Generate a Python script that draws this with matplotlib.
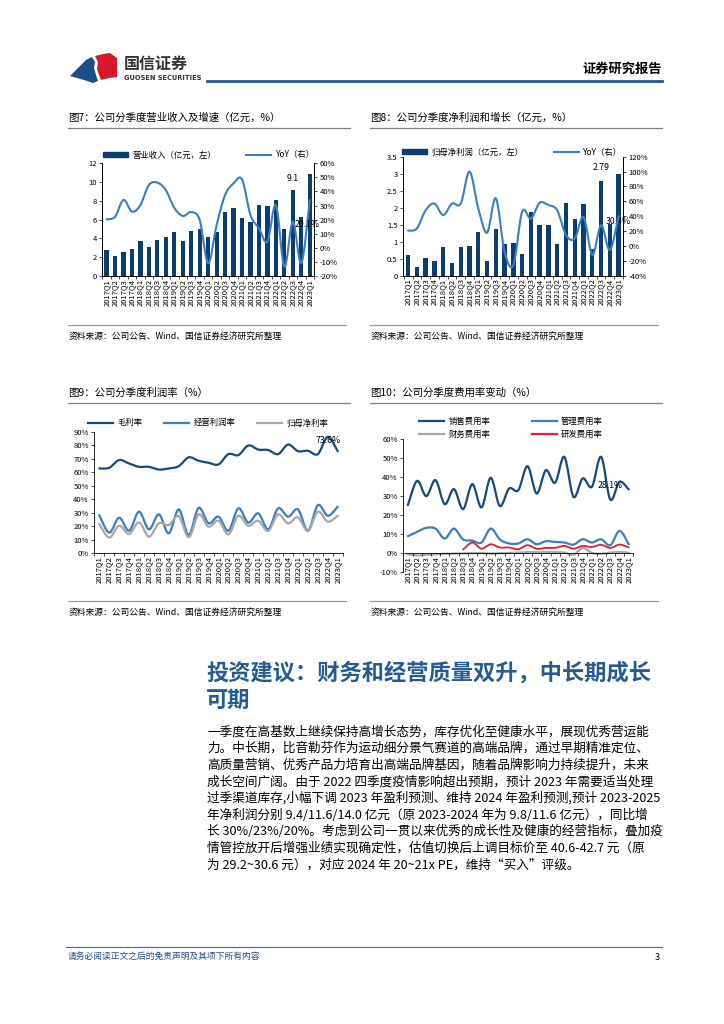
import numpy as np
import matplotlib
matplotlib.use('Agg')
import matplotlib.pyplot as plt
from matplotlib.path import Path
from matplotlib.patches import PathPatch, Patch, Polygon
from matplotlib.lines import Line2D
from matplotlib.ticker import FuncFormatter

plt.rcParams['font.family'] = ['Noto Sans CJK SC', 'DejaVu Sans']
plt.rcParams['axes.unicode_minus'] = False

# ---------------- data ----------------
quarters = ['2017Q1', '2017Q2', '2017Q3', '2017Q4', '2018Q1', '2018Q2', '2018Q3', '2018Q4',
            '2019Q1', '2019Q2', '2019Q3', '2019Q4', '2020Q1', '2020Q2', '2020Q3', '2020Q4',
            '2021Q1', '2021Q2', '2021Q3', '2021Q4', '2022Q1', '2022Q2', '2022Q3', '2022Q4',
            '2023Q1']

# 图7 营业收入（亿元）及 YoY（%）
revenue = [2.8, 2.1, 2.55, 2.9, 3.7, 3.05, 3.85, 4.15, 4.7, 3.7, 4.8, 5.0, 4.15, 4.7,
           6.8, 7.25, 6.2, 5.8, 7.55, 7.5, 8.1, 5.0, 9.15, 6.3, 10.85]
revenue_yoy = [20.2, 22, 34, 25.7, 30.4, 44.6, 46.3, 41, 28.5, 22.6, 25.4, 19.8, -11, 16.2,
               37.5, 45.8, 48.6, 23.3, 13.8, 4.4, 30.4, -13.4, 18.6, -11, 34]

# 图8 归母净利润（亿元）及 YoY（%）
net_profit = [0.61, 0.245, 0.53, 0.44, 0.85, 0.37, 0.83, 0.87, 1.29, 0.43, 1.38, 0.93, 0.96,
              0.64, 1.88, 1.49, 1.49, 0.93, 2.15, 1.66, 2.12, 0.8, 2.79, 1.52, 3.0]
profit_yoy = [20.5, 23.6, 48, 57, 41.5, 57, 57, 100, 50.5, 17.8, 64, -7.8, -25.7, 46, 36.6,
              58, 55, 48, 14.6, 10, 39, -12, 28, -5.6, 40]

# 图9 利润率（%）
gross_margin = [62.8, 63.3, 69, 66.5, 64, 64, 62, 62.8, 64.5, 71, 68.5, 67, 65.8, 73.4, 72.7,
                79.8, 76.8, 76.4, 73.4, 80.5, 75.6, 75.9, 73.4, 86.2, 75.6]
op_margin = [28.3, 15.3, 26.4, 16.7, 30.8, 17.7, 28.8, 14.8, 32.5, 13.5, 33.7, 22.2, 27.1,
             16.7, 33.3, 22.7, 29.6, 17.7, 33.3, 27.1, 32.5, 16.7, 35.7, 27.8, 34.5]
net_margin = [21.7, 11.6, 20.4, 14.3, 22.9, 12.3, 22.2, 20.9, 27.6, 11.8, 28.8, 19.7, 24.1,
              14, 27.8, 20.4, 24.1, 16.5, 28.8, 22.2, 26.6, 16.5, 30.8, 23.4, 27.8]

# 图10 费用率（%）
sales_exp = [25.2, 37.9, 29.9, 38.3, 25.7, 33.6, 23.1, 36.2, 24, 39.5, 24.7, 33.9, 33, 45.6,
             31.3, 43.5, 36.9, 50.5, 29.5, 39.2, 34.8, 50.5, 28.1, 37.4, 33.4]
admin_exp = [8.9, 11.2, 13.3, 12.9, 7.7, 12.9, 7.2, 6.6, 5.6, 12.9, 7.2, 5.1, 5.1, 7.3, 4.7,
             6.3, 5.9, 5.6, 4.5, 7.3, 5.6, 7.3, 4.2, 11.7, 4.7]
fin_exp = [-0.5, -1.2, -0.8, -0.6, -0.3, -0.2, -0.1, 0.0, 0.1, -0.2, 0.0, 0.1, 0.3, 0.6, 0.5,
           0.6, 0.5, 0.4, -0.8, 2.8, 0.2, -0.3, 0.3, 0.6, 0.2]
rd_exp = [1.9, 5.6, 2.4, 4.7, 3.0, 3.0, 2.1, 4.2, 2.3, 2.8, 2.8, 3.8, 2.4, 3.8, 3.3, 4.4,
          2.8, 4.5, 3.1]  # 自 2018Q3 起

body_lines = [
    '一季度在高基数上继续保持高增长态势，库存优化至健康水平，展现优秀营运能',
    '力。中长期，比音勒芬作为运动细分景气赛道的高端品牌，通过早期精准定位、',
    '高质量营销、优秀产品力培育出高端品牌基因，随着品牌影响力持续提升，未来',
    '成长空间广阔。由于 2022 四季度疫情影响超出预期，预计 2023 年需要适当处理',
    '过季渠道库存,小幅下调 2023 年盈利预测、维持 2024 年盈利预测,预计 2023-2025',
    '年净利润分别 9.4/11.6/14.0 亿元（原 2023-2024 年为 9.8/11.6 亿元），同比增',
    '长 30%/23%/20%。考虑到公司一贯以来优秀的成长性及健康的经营指标，叠加疫',
    '情管控放开后增强业绩实现确定性，估值切换后上调目标价至 40.6-42.7 元（原',
    '为 29.2~30.6 元），对应 2024 年 20~21x PE，维持“买入”评级。',
]

# ---------------- style ----------------
NAVY = '#0c3d70'
BLUE = '#3a7fc1'
GRAY = '#a8a8a8'
RED = '#e0202a'
W, H = 724, 1024
TICK_FS = 5.5


def box(x0, y0, x1, y1):
    return [x0 / W, 1 - y1 / H, (x1 - x0) / W, (y1 - y0) / H]


def fx(x):
    return x / W


def fy(y):
    return 1 - y / H


def smooth(ax, xs, ys, **kw):
    # Excel 风格的平滑折线（Catmull-Rom -> Bezier）
    xs = np.asarray(xs, float)
    ys = np.asarray(ys, float)
    n = len(xs)
    verts = [(xs[0], ys[0])]
    codes = [Path.MOVETO]
    for i in range(n - 1):
        a = i - 1 if i > 0 else i
        d = i + 2 if i + 2 < n else i + 1
        c1 = (xs[i] + (xs[i + 1] - xs[a]) / 6, ys[i] + (ys[i + 1] - ys[a]) / 6)
        c2 = (xs[i + 1] - (xs[d] - xs[i]) / 6, ys[i + 1] - (ys[d] - ys[i]) / 6)
        verts += [c1, c2, (xs[i + 1], ys[i + 1])]
        codes += [Path.CURVE4] * 3
    ax.add_patch(PathPatch(Path(verts, codes), fill=False, capstyle='round',
                           joinstyle='round', **kw))


def pct(v, _):
    return f'{v:.0f}%'


def style_axis(ax, n):
    ax.set_xticks(np.arange(n))
    ax.set_xticklabels(quarters, rotation=90, fontsize=TICK_FS)
    ax.set_xticks(np.arange(-0.5, n, 1), minor=True)
    ax.tick_params(axis='x', which='major', length=0, pad=2)
    ax.tick_params(axis='x', which='minor', length=2.5, width=0.5)
    ax.tick_params(axis='y', labelsize=TICK_FS, length=2, width=0.5, pad=2)
    for s in ax.spines.values():
        s.set_linewidth(0.6)
    ax.spines['top'].set_visible(False)


fig = plt.figure(figsize=(W / 100, H / 100), dpi=100)
x = np.arange(len(quarters))

# ---------------- header ----------------
blue_logo = [(70, 76), (78, 68), (86, 60), (92, 57), (95, 62), (94, 68), (96, 75), (98, 81),
             (93, 83), (84, 80)]
red_logo = [(95, 56), (103, 54), (110, 53), (117, 58), (117, 77), (109, 78), (101, 80),
            (99, 75), (97, 69), (98, 62)]
fig.add_artist(Polygon([(fx(a), fy(b)) for a, b in blue_logo], closed=True,
                       transform=fig.transFigure, color='#1c4e86', lw=0))
fig.add_artist(Polygon([(fx(a), fy(b)) for a, b in red_logo], closed=True,
                       transform=fig.transFigure, color='#d7182a', lw=0))
fig.text(fx(124), fy(64), '国信证券', fontsize=11.5, fontweight='bold', color='#333333',
         va='center')
fig.text(fx(124), fy(78), 'GUOSEN SECURITIES', fontsize=4.8, fontweight='bold',
         color='#333333', va='center', family=['DejaVu Sans'])
fig.add_artist(Line2D([fx(207), fx(662)], [fy(81), fy(81)], color='#1f5a94', lw=2))
fig.text(fx(662), fy(69), '证券研究报告', fontsize=9.5, fontweight='bold', ha='right',
         va='center')

# ---------------- titles / sources ----------------
for xl, xr, yt, title in [(68, 350, 118, '图7：公司分季度营业收入及增速（亿元，%）'),
                          (370, 662, 118, '图8：公司分季度净利润和增长（亿元，%）'),
                          (68, 350, 393, '图9：公司分季度利润率（%）'),
                          (370, 662, 393, '图10：公司分季度费用率变动（%）')]:
    fig.text(fx(xl), fy(yt), title, fontsize=7.5, va='center')
    fig.add_artist(Line2D([fx(xl), fx(xr)], [fy(yt + 10)] * 2, color='#7f7f7f', lw=0.9))
    ys = 325 if yt < 300 else 601
    fig.add_artist(Line2D([fx(xl), fx(xr - 4)], [fy(ys)] * 2, color='#9a9a9a', lw=0.9))
    fig.text(fx(xl + 1), fy(ys + 11), '资料来源：公司公告、Wind、国信证券经济研究所整理',
             fontsize=6.3, va='center')

# ---------------- 图7 ----------------
ax7 = fig.add_axes(box(102.3, 163.3, 314, 276))
ax7.bar(x, revenue, width=0.5, color=NAVY, zorder=2)
ax7.set_xlim(-0.45, 24.4)
ax7.set_ylim(0, 12)
ax7.set_yticks(range(0, 13, 2))
style_axis(ax7, len(quarters))
ax7r = ax7.twinx()
ax7r.set_ylim(-20, 60)
ax7r.set_yticks(range(-20, 61, 10))
ax7r.yaxis.set_major_formatter(FuncFormatter(pct))
ax7r.tick_params(axis='y', labelsize=TICK_FS, length=2, width=0.5, pad=2)
for s in ax7r.spines.values():
    s.set_linewidth(0.6)
ax7r.spines['top'].set_visible(False)
smooth(ax7r, x, revenue_yoy, color=BLUE, lw=1.5)
ax7.text(22, 10.4, '9.1', fontsize=6.3, ha='center', va='center', zorder=5)
ax7r.text(23.7, 16.5, '20.1%', fontsize=6.3, ha='center', va='center')
fig.legend([Patch(color=NAVY), Line2D([], [], color=BLUE, lw=1.5)],
           ['营业收入（亿元，左）', 'YoY（右）'], loc='center',
           bbox_to_anchor=(fx(209), fy(155)), ncol=2, frameon=False, fontsize=6,
           handlelength=3, handleheight=0.5, columnspacing=3.6, handletextpad=0.5,
           borderpad=0)

# ---------------- 图8 ----------------
ax8 = fig.add_axes(box(403.3, 156.7, 623, 275.7))
ax8.bar(x, net_profit, width=0.5, color=NAVY, zorder=2)
ax8.set_xlim(-0.55, 24.4)
ax8.set_ylim(0, 3.5)
ax8.set_yticks(np.arange(0, 3.6, 0.5))
ax8.yaxis.set_major_formatter(FuncFormatter(lambda v, _: f'{v:g}'))
style_axis(ax8, len(quarters))
ax8r = ax8.twinx()
ax8r.set_ylim(-40, 120)
ax8r.set_yticks(range(-40, 121, 20))
ax8r.yaxis.set_major_formatter(FuncFormatter(pct))
ax8r.tick_params(axis='y', labelsize=TICK_FS, length=2, width=0.5, pad=2)
for s in ax8r.spines.values():
    s.set_linewidth(0.6)
ax8r.spines['top'].set_visible(False)
smooth(ax8r, x, profit_yoy, color=BLUE, lw=1.5)
ax8.text(22, 3.17, f'{net_profit[22]:.2f}', fontsize=6.3, ha='center', va='center')
ax8.text(24, 1.59, '30.4%', fontsize=6.3, ha='center', va='center', zorder=5)
fig.legend([Patch(color=NAVY), Line2D([], [], color=BLUE, lw=1.5)],
           ['归母净利润（亿元，左）', 'YoY（右）'], loc='center',
           bbox_to_anchor=(fx(512), fy(152)), ncol=2, frameon=False, fontsize=6,
           handlelength=3, handleheight=0.5, columnspacing=3.6, handletextpad=0.5,
           borderpad=0)

# ---------------- 图9 ----------------
ax9 = fig.add_axes(box(94.3, 431.7, 342.7, 553.3))
smooth(ax9, x, gross_margin, color='#164a7e', lw=1.6)
smooth(ax9, x, op_margin, color=BLUE, lw=1.6)
smooth(ax9, x, net_margin, color=GRAY, lw=1.6)
ax9.set_xlim(-0.5, 24.5)
ax9.set_ylim(0, 90)
ax9.set_yticks(range(0, 91, 10))
ax9.yaxis.set_major_formatter(FuncFormatter(pct))
style_axis(ax9, len(quarters))
ax9.spines['right'].set_visible(False)
ax9.text(23.05, 83.8, '73.6%', fontsize=6.3, ha='center', va='center')
fig.legend([Line2D([], [], color='#164a7e', lw=1.6), Line2D([], [], color=BLUE, lw=1.6),
            Line2D([], [], color=GRAY, lw=1.6)],
           ['毛利率', '经营利润率', '归母净利率'], loc='center',
           bbox_to_anchor=(fx(208), fy(423)), ncol=3, frameon=False, fontsize=6,
           handlelength=3, columnspacing=2.6, handletextpad=0.5, borderpad=0)

# ---------------- 图10 ----------------
ax10 = fig.add_axes(box(403.3, 438.7, 633.3, 572.3))
ax10.spines['bottom'].set_position(('data', 0))
smooth(ax10, x, sales_exp, color='#164a7e', lw=1.6)
smooth(ax10, x, admin_exp, color=BLUE, lw=1.6)
smooth(ax10, x, fin_exp, color=GRAY, lw=1.6)
smooth(ax10, x[len(quarters) - len(rd_exp):], rd_exp, color=RED, lw=1.3)
ax10.set_xlim(-0.5, 24.5)
ax10.set_ylim(-10, 60)
ax10.set_yticks(range(-10, 61, 10))
ax10.yaxis.set_major_formatter(FuncFormatter(pct))
style_axis(ax10, len(quarters))
ax10.spines['right'].set_visible(False)
ax10.text(22, 35.7, '28.1%', fontsize=6.3, ha='center', va='center')
fig.legend([Line2D([], [], color='#164a7e', lw=1.6), Line2D([], [], color=GRAY, lw=1.6),
            Line2D([], [], color=BLUE, lw=1.6), Line2D([], [], color=RED, lw=1.6)],
           ['销售费用率', '财务费用率', '管理费用率', '研发费用率'], loc='center',
           bbox_to_anchor=(fx(511), fy(428)), ncol=2, frameon=False, fontsize=6,
           handlelength=3, columnspacing=5, handletextpad=0.5, labelspacing=0.55,
           borderpad=0)

# ---------------- 正文 ----------------
fig.text(fx(206), fy(673), '投资建议：财务和经营质量双升，中长期成长', fontsize=16,
         fontweight='bold', color='#245b92', va='center')
fig.text(fx(206), fy(700), '可期', fontsize=16, fontweight='bold', color='#245b92',
         va='center')
for i, line in enumerate(body_lines):
    fig.text(fx(207), fy(732 + i * 16.6), line, fontsize=9.1, va='center')

# ---------------- footer ----------------
fig.add_artist(Line2D([fx(66), fx(662)], [fy(947)] * 2, color='#3c6fa3', lw=0.8))
fig.text(fx(68), fy(956), '请务必阅读正文之后的免责声明及其项下所有内容', fontsize=6.3,
         color='#1f4e8c', va='center', style='italic')
fig.text(fx(660), fy(957), '3', fontsize=6.5, ha='right', va='center')

fig.savefig('out.png', dpi=100)
